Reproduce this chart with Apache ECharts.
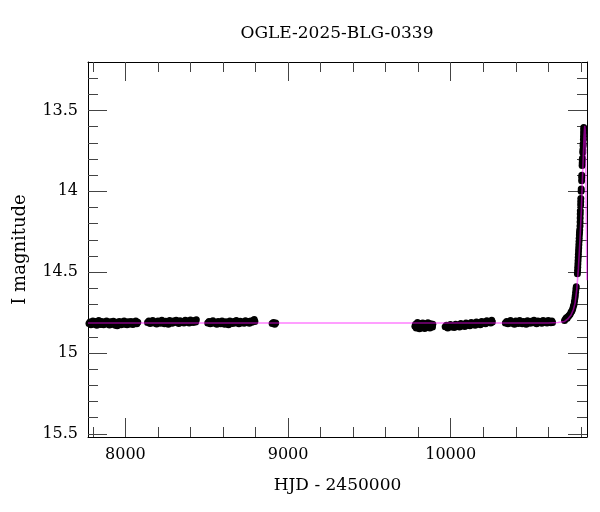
<!DOCTYPE html>
<html>
<head>
<meta charset="utf-8">
<script src="https://cdn.jsdelivr.net/npm/echarts@6/dist/echarts.min.js"></script>
<style>html,body{margin:0;padding:0;background:#fff}#c{width:600px;height:512px}</style>
</head>
<body>
<div id="c"></div>
<script>
var chartTitle = 'OGLE-2025-BLG-0339';
var xName = 'HJD - 2450000';
var yName = 'I magnitude';

var xMajorTicks = [8000, 9000, 10000];
var xMinorTicks = [7800, 8200, 8400, 8600, 8800, 9200, 9400, 9600, 9800, 10200, 10400, 10600, 10800];
var yMajorTicks = [13.5, 14, 14.5, 15, 15.5];
var yMinorTicks = [13.3, 13.4, 13.6, 13.7, 13.8, 13.9, 14.1, 14.2, 14.3, 14.4, 14.6, 14.7, 14.8, 14.9, 15.1, 15.2, 15.3, 15.4];

var season1 = [[7776,14.818],[7782,14.808],[7788,14.825],[7794,14.812],[7800,14.803],[7806,14.822],[7812,14.815],[7818,14.806],[7824,14.828],[7830,14.811],[7836,14.800],[7842,14.819],[7848,14.824],[7854,14.805],[7860,14.814],[7866,14.826],[7872,14.809],[7878,14.817],[7884,14.802],[7890,14.821],[7896,14.812],[7902,14.827],[7908,14.807],[7914,14.818],[7920,14.823],[7926,14.804],[7932,14.815],[7938,14.829],[7944,14.810],[7950,14.832],[7956,14.820],[7962,14.806],[7968,14.816],[7974,14.825],[7980,14.809],[7986,14.818],[7992,14.803],[7998,14.822],[8004,14.813],[8010,14.826],[8016,14.807],[8022,14.817],[8028,14.821],[8034,14.805],[8040,14.814],[8046,14.824],[8052,14.808],[8058,14.816],[8064,14.803],[8070,14.819],[8076,14.810]];
var season2 = [[8136,14.812],[8144,14.803],[8152,14.818],[8160,14.806],[8168,14.799],[8176,14.815],[8184,14.809],[8192,14.821],[8200,14.802],[8208,14.811],[8216,14.817],[8224,14.798],[8232,14.807],[8240,14.819],[8248,14.804],[8256,14.813],[8264,14.822],[8272,14.800],[8280,14.810],[8288,14.816],[8296,14.803],[8304,14.812],[8312,14.797],[8320,14.808],[8328,14.818],[8336,14.801],[8344,14.811],[8352,14.805],[8360,14.815],[8368,14.798],[8376,14.809],[8384,14.803],[8392,14.814],[8400,14.796],[8408,14.806],[8416,14.812],[8424,14.799],[8432,14.808],[8436,14.795]];
var season3 = [[8506,14.815],[8514,14.806],[8522,14.820],[8530,14.809],[8538,14.801],[8546,14.817],[8554,14.811],[8562,14.823],[8570,14.805],[8578,14.814],[8586,14.819],[8594,14.802],[8602,14.810],[8610,14.822],[8618,14.807],[8626,14.815],[8634,14.825],[8642,14.803],[8650,14.812],[8658,14.818],[8666,14.806],[8674,14.814],[8682,14.800],[8690,14.811],[8698,14.820],[8706,14.804],[8714,14.813],[8722,14.808],[8730,14.817],[8738,14.801],[8746,14.812],[8754,14.806],[8762,14.816],[8770,14.803],[8778,14.810],[8786,14.800],[8792,14.793],[8796,14.806]];
var season3b = [[8902,14.818],[8910,14.812],[8918,14.822],[8924,14.815]];
var season4 = [[9780,14.835],[9784,14.822],[9788,14.846],[9792,14.829],[9796,14.812],[9800,14.840],[9804,14.826],[9808,14.851],[9812,14.818],[9816,14.836],[9820,14.844],[9824,14.823],[9828,14.815],[9832,14.838],[9836,14.830],[9840,14.849],[9844,14.820],[9848,14.834],[9852,14.842],[9856,14.825],[9860,14.813],[9864,14.837],[9868,14.828],[9872,14.845],[9876,14.819],[9880,14.833],[9884,14.826],[9888,14.840],[9890,14.822]];
var season5 = [[9966,14.838],[9974,14.828],[9982,14.845],[9990,14.832],[9998,14.824],[10006,14.840],[10014,14.830],[10022,14.843],[10030,14.822],[10038,14.835],[10046,14.827],[10054,14.839],[10062,14.818],[10070,14.831],[10078,14.825],[10086,14.836],[10094,14.815],[10102,14.828],[10110,14.821],[10118,14.832],[10126,14.812],[10134,14.824],[10142,14.817],[10150,14.829],[10158,14.809],[10166,14.820],[10174,14.813],[10182,14.825],[10190,14.805],[10198,14.816],[10206,14.809],[10214,14.820],[10222,14.801],[10230,14.812],[10238,14.806],[10246,14.815],[10252,14.798],[10256,14.808]];
var season6 = [[10336,14.815],[10344,14.806],[10352,14.820],[10360,14.809],[10368,14.800],[10376,14.816],[10384,14.811],[10392,14.822],[10400,14.803],[10408,14.813],[10416,14.818],[10424,14.799],[10432,14.808],[10440,14.820],[10448,14.805],[10456,14.814],[10464,14.823],[10472,14.801],[10480,14.811],[10488,14.817],[10496,14.804],[10504,14.813],[10512,14.798],[10520,14.809],[10528,14.819],[10536,14.802],[10544,14.812],[10552,14.806],[10560,14.816],[10568,14.800],[10576,14.810],[10584,14.804],[10592,14.815],[10600,14.799],[10608,14.808],[10616,14.813],[10622,14.802],[10626,14.811]];
var season7 = [[10700,14.800],[10706,14.790],[10711,14.782],[10716,14.785],[10722,14.775],[10728,14.768],[10734,14.760],[10740,14.748],[10745,14.740],[10750,14.728],[10754,14.712],[10758,14.700],[10761,14.680],[10764,14.660],[10766,14.645],[10768,14.625],[10770,14.605],[10772,14.590],[10779,14.510],[10780,14.490],[10781,14.470],[10782,14.450],[10783,14.430],[10784,14.410],[10785,14.390],[10786,14.370],[10787,14.350],[10788,14.330],[10789,14.310],[10790,14.290],[10791,14.270],[10792,14.255],[10793,14.240],[10795,14.215],[10795.5,14.190],[10796,14.165],[10796.5,14.140],[10797,14.120],[10799,14.085],[10799.5,14.065],[10800,14.045],[10802,14.000],[10802.5,13.985],[10805,13.935],[10805.5,13.915],[10806,13.900],[10808,13.840],[10808.5,13.825],[10809,13.810],[10810,13.795],[10812,13.760],[10812.5,13.745],[10814,13.720],[10814.5,13.705],[10816,13.680],[10816.5,13.660],[10817,13.640],[10817.5,13.620],[10818,13.605]];

var modelHjd = [7770, 10600, 10660, 10700, 10720, 10740, 10755, 10765, 10775, 10785, 10795, 10803, 10810, 10816, 10820, 10824, 10827, 10830, 10834, 10838];
var modelMag = [14.815, 14.815, 14.812, 14.805, 14.790, 14.765, 14.730, 14.690, 14.610, 14.480, 14.300, 14.120, 13.930, 13.760, 13.660, 13.595, 13.620, 13.800, 14.150, 14.550];

var FONT = 'DejaVu Serif';
var X_MIN = 7770, X_MAX = 10838, Y_MIN = 13.2, Y_MAX = 15.52;

var points = [].concat(season1, season2, season3, season3b, season4, season5, season6, season7);
var model = modelHjd.map(function (h, i) { return [h, modelMag[i]]; });

function plain(v) { return String(v); }

function xAx(pos, ticks, len, withLine, withLabel) {
  return {
    type: 'value', min: X_MIN, max: X_MAX, position: pos, gridIndex: 0,
    axisLine: { show: withLine, onZero: false, lineStyle: { color: '#000', width: 1 } },
    axisTick: { show: true, inside: true, length: len, customValues: ticks, lineStyle: { color: '#444', width: 1 } },
    axisLabel: withLabel ? { show: true, customValues: ticks, formatter: plain, margin: 10, fontFamily: FONT, fontSize: 16, color: '#000' } : { show: false },
    splitLine: { show: false },
    name: withLabel ? xName : '', nameLocation: 'middle', nameGap: 40,
    nameTextStyle: { fontFamily: FONT, fontSize: 17, color: '#000' }
  };
}
function yAx(pos, ticks, len, withLine, withLabel) {
  return {
    type: 'value', min: Y_MIN, max: Y_MAX, inverse: true, position: pos, gridIndex: 0,
    axisLine: { show: withLine, onZero: false, lineStyle: { color: '#000', width: 1 } },
    axisTick: { show: true, inside: true, length: len, customValues: ticks, lineStyle: { color: '#444', width: 1 } },
    axisLabel: withLabel ? { show: true, customValues: ticks, formatter: plain, margin: 10, fontFamily: FONT, fontSize: 16, color: '#000' } : { show: false },
    splitLine: { show: false },
    name: withLabel ? yName : '', nameLocation: 'middle', nameGap: 59,
    nameTextStyle: { fontFamily: FONT, fontSize: 18, color: '#000' }
  };
}

var chart = echarts.init(document.getElementById('c'), null, { renderer: 'canvas' });
chart.setOption({
  animation: false,
  backgroundColor: '#fff',
  grid: { left: 88, right: 13, top: 62, bottom: 75, containLabel: false },
  graphic: [{
    type: 'text', x: 337, y: 34,
    style: { text: chartTitle, font: '17px "DejaVu Serif"', fill: '#000', textAlign: 'center', textVerticalAlign: 'middle' }
  }],
  xAxis: [
    xAx('bottom', xMajorTicks, 19, true, true),
    xAx('bottom', xMinorTicks, 10, false, false),
    xAx('top', xMajorTicks, 19, true, false),
    xAx('top', xMinorTicks, 10, false, false)
  ],
  yAxis: [
    yAx('left', yMajorTicks, 19, true, true),
    yAx('left', yMinorTicks, 10, false, false),
    yAx('right', yMajorTicks, 19, true, false),
    yAx('right', yMinorTicks, 10, false, false)
  ],
  series: [
    {
      type: 'scatter', xAxisIndex: 0, yAxisIndex: 0, data: points,
      symbol: 'circle', symbolSize: 7, itemStyle: { color: '#000', opacity: 1 }, z: 2
    },
    {
      type: 'line', xAxisIndex: 0, yAxisIndex: 0, data: model, showSymbol: false,
      lineStyle: { color: 'rgba(255,0,255,0.5)', width: 1.6 }, z: 3, clip: true
    }
  ]
});
</script>
</body>
</html>
